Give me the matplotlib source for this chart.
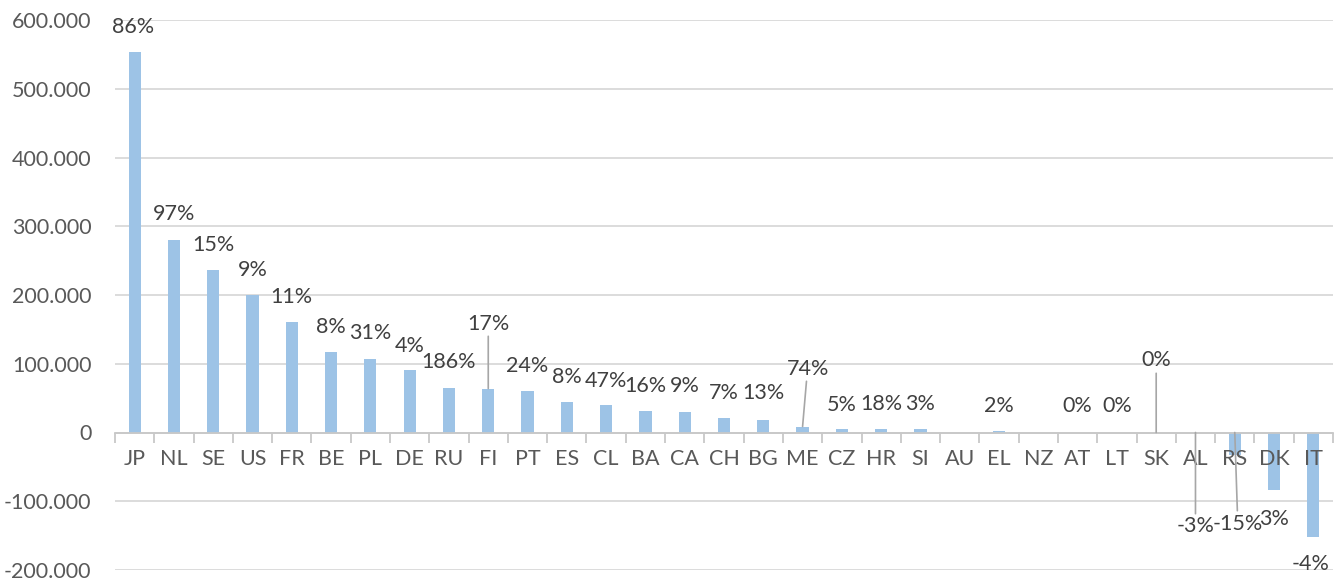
import matplotlib
matplotlib.use("Agg")
import matplotlib.pyplot as plt
from matplotlib.ticker import FuncFormatter, FixedLocator
import numpy as np

categories = ["JP", "NL", "SE", "US", "FR", "BE", "PL", "DE", "RU", "FI", "PT",
              "ES", "CL", "BA", "CA", "CH", "BG", "ME", "CZ", "HR", "SI", "AU",
              "EL", "NZ", "AT", "LT", "SK", "AL", "RS", "DK", "IT"]
values = [553800, 280500, 237000, 200600, 161000, 117700, 107500, 91500, 65400,
          64000, 61000, 45000, 40700, 32000, 30500, 21800, 18900, 8700, 5800,
          5800, 5800, 0, 2000, 0, 0, 0, 0, -500, -32000, -83800, -152600]
pct_labels = ["86%", "97%", "15%", "9%", "11%", "8%", "31%", "4%", "186%", "17%",
              "24%", "8%", "47%", "16%", "9%", "7%", "13%", "74%", "5%", "18%",
              "3%", "", "2%", "", "0%", "0%", "0%", "-3%", "-15%", "3%", "-4%"]

# label layout: offset in pixels from bar end (dx, dy)
label_offsets = [(-2, 25), (0, 26), (0, 25), (0, 25), (0, 25), (0, 25), (0, 26),
                 (0, 24), (0, 26), (0, 65), (0, 25), (0, 25), (0, 24), (0, 25),
                 (0, 26), (0, 25), (0, 27), (5, 58), (0, 24), (0, 25), (0, 25),
                 (0, 25), (0, 25), (0, 25), (0, 26), (0, 26), (0, 72), (0, -94),
                 (3, -91), (0, -29), (-3, -27)]
leader = {"FI", "ME", "SK", "AL", "RS"}
leader_from_zero = {"AL", "RS"}

BAR = "#9DC3E6"
GRID = "#D9D9D9"
TICK_TXT = "#595959"
LBL_TXT = "#404040"
FONT = "Lato"
FS = 15.5

W, H = 1343, 580
fig = plt.figure(figsize=(W / 100, H / 100), dpi=100)
ax = fig.add_axes([115 / W, 1 - 570 / H, (1333 - 115) / W, (570 - 20) / H])

x = np.arange(len(categories))
ax.bar(x, values, width=0.31, color=BAR, zorder=1)

ax.set_xlim(-0.5, len(categories) - 0.5)
ax.set_ylim(-200000, 600000)
ax.set_yticks(np.arange(-200000, 600001, 100000))
ax.yaxis.set_major_formatter(FuncFormatter(lambda v, p: f"{int(v):,}".replace(",", ".")))
ax.yaxis.grid(True, color=GRID, linewidth=1.3)
ax.set_axisbelow(True)
ax.tick_params(axis="y", length=0, pad=17, labelsize=FS, labelcolor=TICK_TXT)
for lab in ax.get_yticklabels():
    lab.set_fontfamily(FONT)

for s in ["top", "right", "left"]:
    ax.spines[s].set_visible(False)
ax.spines["bottom"].set_position(("data", 0))
ax.spines["bottom"].set_color("#C8C8C8")
ax.spines["bottom"].set_linewidth(1.3)
ax.spines["bottom"].set_zorder(1.5)

ax.set_xticks(x)
ax.set_xticklabels(categories, fontfamily=FONT, fontsize=FS, color=TICK_TXT)
ax.tick_params(axis="x", which="major", length=0, pad=12)
ax.xaxis.set_minor_locator(FixedLocator(np.arange(-0.5, len(categories), 1.0)))
ax.tick_params(axis="x", which="minor", length=7, width=1.3, color="#C8C8C8", direction="out")
ax.xaxis.set_zorder(4)

for i, (cat, v, lab) in enumerate(zip(categories, values, pct_labels)):
    if not lab:
        continue
    dx, dy = label_offsets[i]
    kw = {}
    anchor = v
    if cat in leader:
        if cat in leader_from_zero:
            anchor = 0
        kw["arrowprops"] = dict(arrowstyle="-", color="#A6A6A6", linewidth=1.2,
                                shrinkA=0, shrinkB=0)
    ax.annotate(lab, xy=(i, anchor), xytext=(dx, dy),
                textcoords="offset pixels", ha="center", va="center",
                fontsize=FS, fontfamily=FONT, color=LBL_TXT, zorder=6,
                annotation_clip=False, **kw)

fig.savefig("out.png", dpi=100)
